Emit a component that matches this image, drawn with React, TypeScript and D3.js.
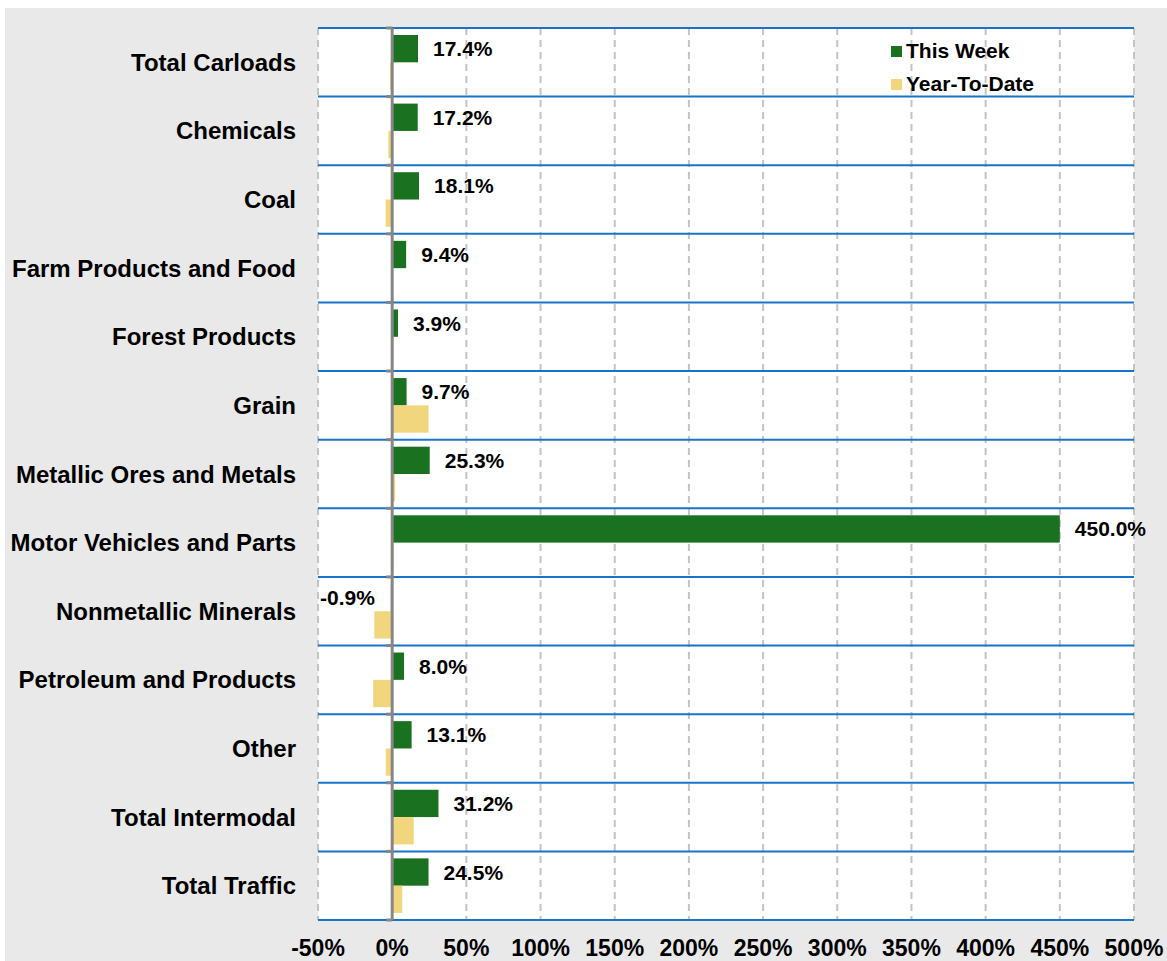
import * as d3 from 'd3';

// categories top to bottom
const categories = [
  'Total Carloads',
  'Chemicals',
  'Coal',
  'Farm Products and Food',
  'Forest Products',
  'Grain',
  'Metallic Ores and Metals',
  'Motor Vehicles and Parts',
  'Nonmetallic Minerals',
  'Petroleum and Products',
  'Other',
  'Total Intermodal',
  'Total Traffic',
];

const thisWeek = [17.4, 17.2, 18.1, 9.4, 3.9, 9.7, 25.3, 450.0, -0.9, 8.0, 13.1, 31.2, 24.5];
const yearToDate = [-1.5, -2.6, -4.4, 0.3, 0.8, 24.5, 2.0, 1.0, -12.0, -12.8, -4.3, 14.5, 6.8];

const xTicks = [-50, 0, 50, 100, 150, 200, 250, 300, 350, 400, 450, 500];

const GREEN = '#1a711f';
const YELLOW = '#f2d67e';
const FONT = 'Arial, "Liberation Sans", sans-serif';

const App = () => {
  const W = 1167;
  const H = 961;
  const left = 318;
  const right = 1134;
  const top = 28;
  const bottom = 920;

  const x = d3.scaleLinear().domain([-50, 500]).range([left, right]);
  const y = d3.scaleBand<string>().domain(categories).range([top, bottom]).padding(0);
  const inner = d3
    .scaleBand<string>()
    .domain(['tw', 'ytd'])
    .range([0, y.bandwidth()])
    .paddingInner(0)
    .paddingOuter(0.256);

  const x0 = x(0);
  const separators = [...categories.map((c) => y(c)!), bottom];

  return (
    <svg
      width={W}
      height={H}
      style={{ position: 'absolute', left: 0, top: 0, display: 'block' }}
      fontFamily={FONT}
    >
      <rect x={5} y={8} width={W - 5} height={H - 8} fill="#e9e9e9" />
      <rect x={left} y={top} width={right - left} height={bottom - top} fill="#fff" />

      {/* vertical dashed grid */}
      {xTicks.map((t) =>
        t === 0 ? null : (
          <line
            key={'g' + t}
            x1={x(t)}
            x2={x(t)}
            y1={top}
            y2={bottom}
            stroke="#c4c4c4"
            strokeWidth={2}
            strokeDasharray="7,5"
          />
        )
      )}

      {/* row separators */}
      {separators.map((s, i) => (
        <line key={'s' + i} x1={left} x2={right} y1={s} y2={s} stroke="#1874c8" strokeWidth={2} />
      ))}

      {/* bars */}
      {categories.map((c, i) => {
        const by = y(c)!;
        const tw = thisWeek[i];
        const ytd = yearToDate[i];
        return (
          <g key={c}>
            <rect
              x={Math.min(x(tw), x0)}
              y={by + inner('tw')!}
              width={Math.abs(x(tw) - x0)}
              height={inner.bandwidth()}
              fill={GREEN}
            />
            <rect
              x={Math.min(x(ytd), x0)}
              y={by + inner('ytd')!}
              width={Math.abs(x(ytd) - x0)}
              height={inner.bandwidth()}
              fill={YELLOW}
            />
          </g>
        );
      })}

      {/* zero axis */}
      <line x1={x0} x2={x0} y1={top} y2={bottom} stroke="#868686" strokeWidth={3} />
      {separators.map((s, i) => (
        <line key={'t' + i} x1={x0 - 6} x2={x0} y1={s} y2={s} stroke="#868686" strokeWidth={3} />
      ))}

      {/* value labels */}
      {categories.map((c, i) => {
        const tw = thisWeek[i];
        const cy = y(c)! + inner('tw')! + inner.bandwidth() / 2 + 7.5;
        return (
          <text
            key={'v' + c}
            x={tw >= 0 ? x(tw) + 15 : x(tw) - 16}
            y={cy}
            textAnchor={tw >= 0 ? 'start' : 'end'}
            fontSize={21}
            fontWeight="bold"
            fill="#000"
          >
            {tw.toFixed(1) + '%'}
          </text>
        );
      })}

      {/* category labels */}
      {categories.map((c) => (
        <text
          key={'c' + c}
          x={296}
          y={y(c)! + y.bandwidth() / 2 + 8.5}
          textAnchor="end"
          fontSize={24}
          fontWeight="bold"
          fill="#000"
        >
          {c}
        </text>
      ))}

      {/* x tick labels */}
      {xTicks.map((t) => (
        <text
          key={'x' + t}
          x={x(t)}
          y={956}
          textAnchor="middle"
          fontSize={23}
          fontWeight="bold"
          fill="#000"
        >
          {t + '%'}
        </text>
      ))}

      {/* legend */}
      <rect x={891} y={46} width={11} height={11} fill={GREEN} />
      <text x={906} y={57.5} fontSize={21} fontWeight="bold" fill="#000">
        This Week
      </text>
      <rect x={891} y={79} width={11} height={11} fill={YELLOW} />
      <text x={906} y={90.5} fontSize={21} fontWeight="bold" fill="#000">
        Year-To-Date
      </text>
    </svg>
  );
};

export default App;
